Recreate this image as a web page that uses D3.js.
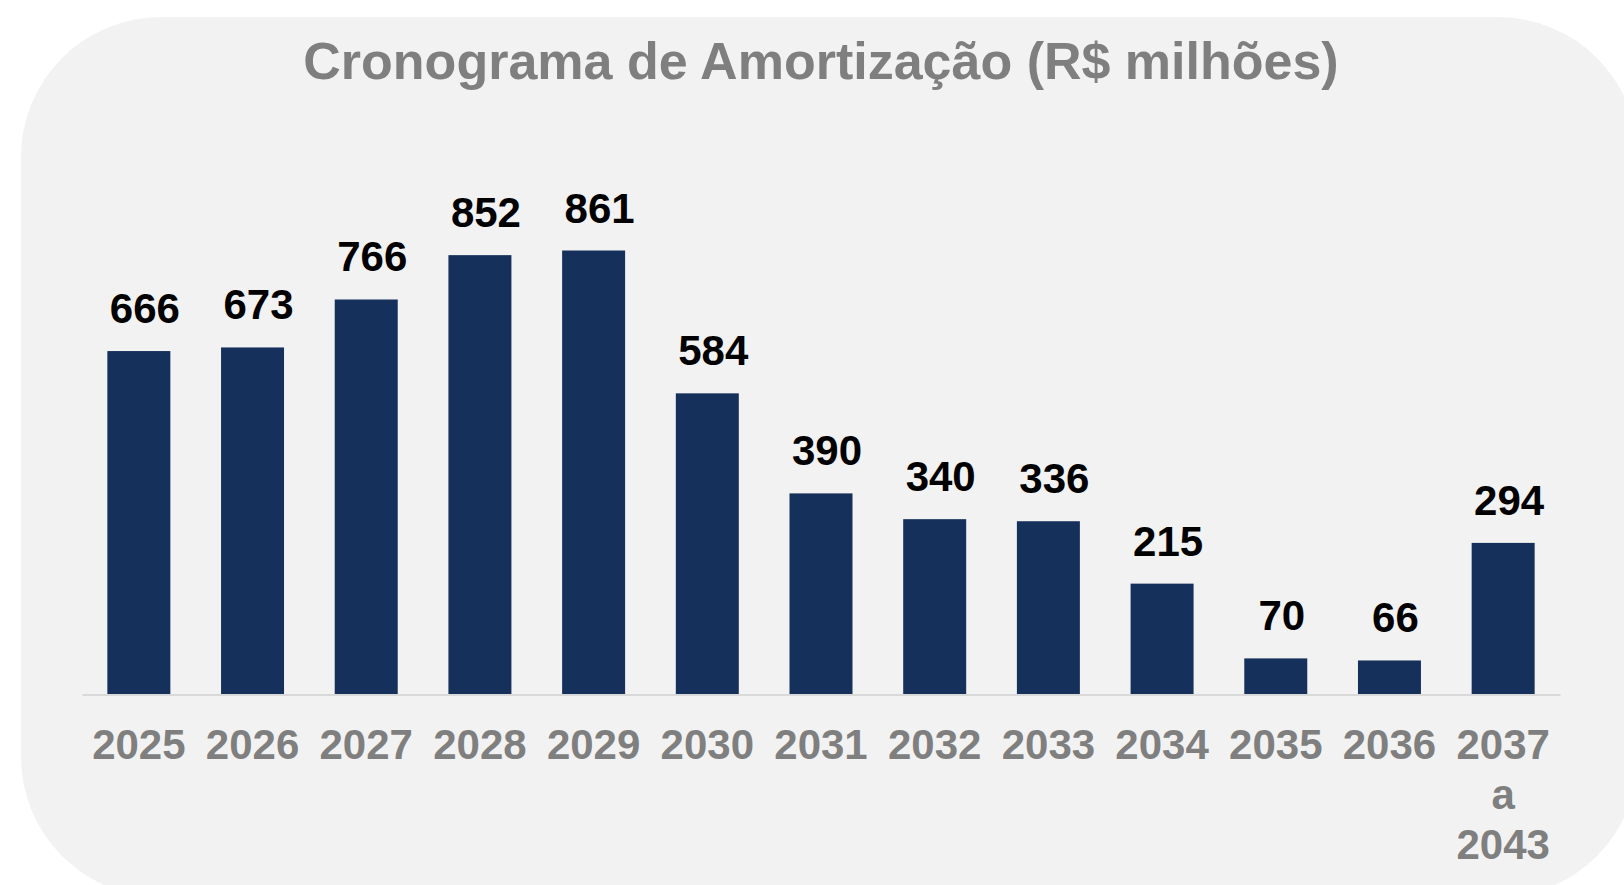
<!DOCTYPE html>
<html>
<head>
<meta charset="utf-8">
<script src="https://cdn.jsdelivr.net/npm/d3@7"></script>
<style>
  html, body { margin: 0; padding: 0; background: #ffffff; }
  svg { display: block; }
  text { font-family: "Liberation Sans", Arial, sans-serif; font-weight: bold; }
</style>
</head>
<body>
<svg id="chart" width="1624" height="885"></svg>
<script>
const title = "Cronograma de Amortização (R$ milhões)";
const categories = ["2025", "2026", "2027", "2028", "2029", "2030", "2031", "2032", "2033", "2034", "2035", "2036", "2037\na\n2043"];
const values = [666, 673, 766, 852, 861, 584, 390, 340, 336, 215, 70, 66, 294];

const svg = d3.select("#chart");

// rounded panel background
svg.append("rect")
  .attr("x", 21).attr("y", 17)
  .attr("width", 1617).attr("height", 880)
  .attr("rx", 140).attr("ry", 140)
  .attr("fill", "#f2f2f2");

svg.append("text")
  .attr("x", 821).attr("y", 79)
  .attr("text-anchor", "middle")
  .attr("font-size", 52)
  .attr("fill", "#7f7f7f")
  .text(title);

const baseY = 694.5;
const x = d3.scaleBand()
  .domain(categories)
  .range([82, 1560])
  .paddingInner(0.446)
  .paddingOuter(0.223);

const y = d3.scaleLinear()
  .domain([0, 861])
  .range([baseY, 250.5]);

svg.append("g").selectAll("rect")
  .data(values)
  .join("rect")
  .attr("x", (d, i) => x(categories[i]))
  .attr("y", d => y(d))
  .attr("width", x.bandwidth())
  .attr("height", d => baseY - y(d))
  .attr("fill", "#16305c");

svg.append("g").selectAll("text")
  .data(values)
  .join("text")
  .attr("x", (d, i) => x(categories[i]) + x.bandwidth() / 2 + 6)
  .attr("y", d => y(d) - 28)
  .attr("text-anchor", "middle")
  .attr("font-size", 42)
  .attr("fill", "#000000")
  .text(d => d);

const axis = d3.axisBottom(x).tickSize(0).tickSizeOuter(0);
const gAxis = svg.append("g")
  .attr("transform", `translate(0,${baseY})`)
  .call(axis);

gAxis.select(".domain")
  .attr("stroke", "#d9d9d9")
  .attr("stroke-width", 2);

gAxis.selectAll(".tick text").each(function(d) {
  const t = d3.select(this);
  t.text(null)
   .attr("y", 0).attr("dy", null)
   .attr("font-size", 42)
   .attr("fill", "#7f7f7f")
   .attr("font-family", "\"Liberation Sans\", Arial, sans-serif")
   .attr("font-weight", "bold");
  d.split("\n").forEach((line, i) => {
    t.append("tspan").attr("x", 0).attr("y", 64.5 + i * 50).text(line);
  });
});
</script>
</body>
</html>
